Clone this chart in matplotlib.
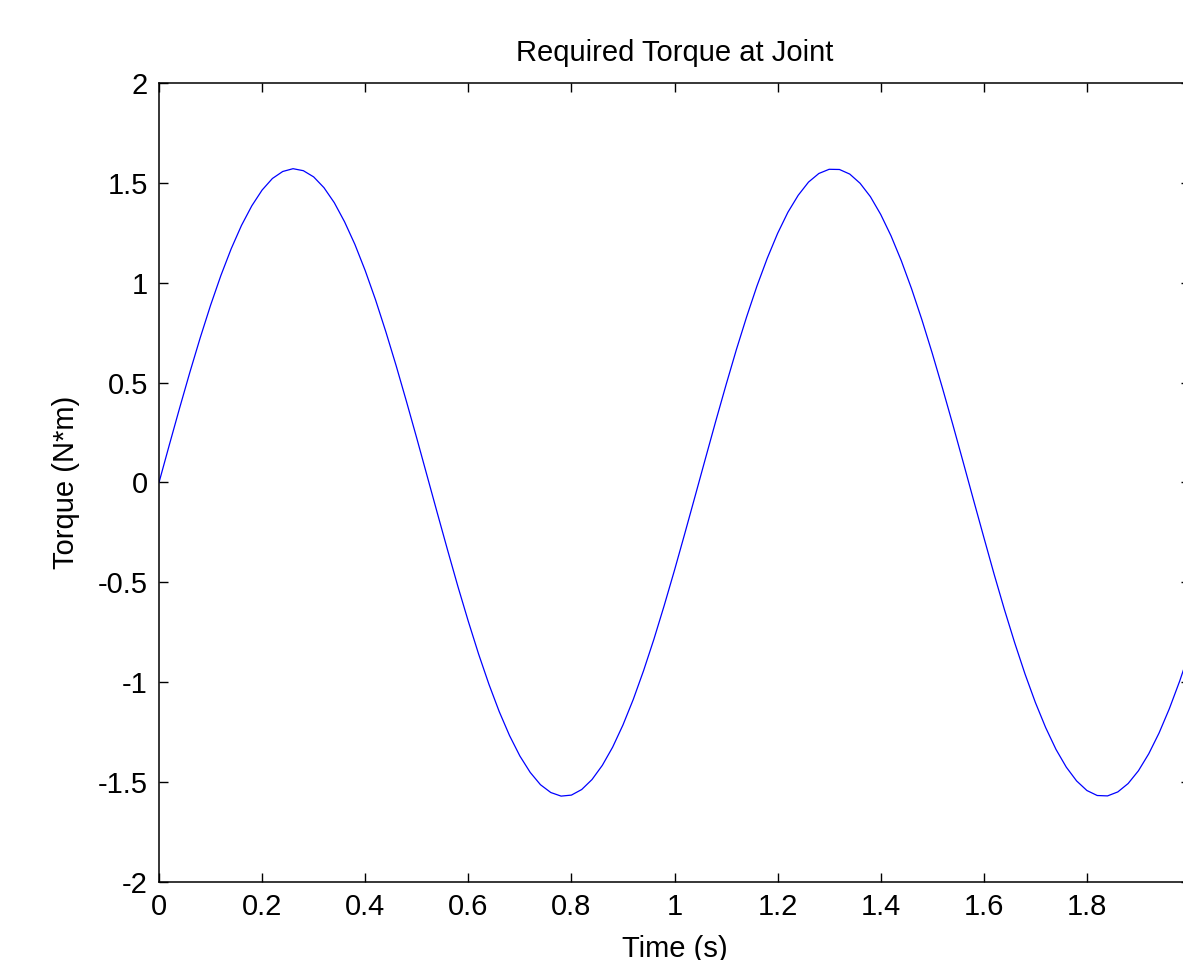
import matplotlib
matplotlib.use('Agg')
import matplotlib.pyplot as plt

# ==========================================
# DATA
# ==========================================
time_s = [i * 0.02 for i in range(101)]
torque_nm = [
    0.000, 0.188, 0.373, 0.553, 0.725, 0.887, 1.036, 1.170, 1.287, 1.385,
    1.464, 1.522, 1.557, 1.571, 1.561, 1.530, 1.476, 1.401, 1.305, 1.192,
    1.061, 0.915, 0.755, 0.585, 0.406, 0.222, 0.034, -0.154, -0.340, -0.522,
    -0.695, -0.859, -1.010, -1.147, -1.267, -1.369, -1.451, -1.513, -1.552, -1.570,
    -1.565, -1.537, -1.487, -1.416, -1.325, -1.214, -1.086, -0.942, -0.785, -0.616,
    -0.439, -0.255, -0.068, 0.120, 0.307, 0.489, 0.665, 0.830, 0.984, 1.123,
    1.247, 1.353, 1.438, 1.504, 1.547, 1.568, 1.567, 1.544, 1.498, 1.431,
    1.342, 1.235, 1.110, 0.969, 0.814, 0.647, 0.471, 0.289, 0.102, -0.087,
    -0.274, -0.459, -0.636, -0.803, -0.959, -1.101, -1.227, -1.336, -1.425, -1.494,
    -1.542, -1.567, -1.569, -1.549, -1.507, -1.443, -1.358, -1.254, -1.132, -0.994,
    -0.841,
]
x_ticks = [0, 0.2, 0.4, 0.6, 0.8, 1.0, 1.2, 1.4, 1.6, 1.8]
x_tick_labels = ['0', '0.2', '0.4', '0.6', '0.8', '1', '1.2', '1.4', '1.6', '1.8']
y_ticks = [-2, -1.5, -1, -0.5, 0, 0.5, 1, 1.5, 2]
y_tick_labels = ['-2', '-1.5', '-1', '-0.5', '0', '0.5', '1', '1.5', '2']

# ==========================================
# STYLE
# ==========================================
plt.rcParams.update({
    'font.family': ['Liberation Sans', 'DejaVu Sans'],
    'font.size': 21,
})

W, H = 1183, 960
fig = plt.figure(figsize=(W / 100, H / 100), dpi=100)
# axes box: left spine at x=159, right spine just past the image edge
ax = fig.add_axes([159 / W, 1 - 882 / H, (1190 - 159) / W, (882 - 83) / H])

ax.plot(time_s, torque_nm, color='#0000ff', linewidth=0.9)

ax.set_xlim(0, 2)
ax.set_ylim(-2, 2)
ax.set_xticks(x_ticks)
ax.set_xticklabels(x_tick_labels)
ax.set_yticks(y_ticks)
ax.set_yticklabels(y_tick_labels)

ax.tick_params(axis='both', direction='in', length=6.5, width=1.0,
               top=True, right=True, labelsize=21)
ax.tick_params(axis='x', pad=8)
ax.tick_params(axis='y', pad=8)
for s in ax.spines.values():
    s.set_linewidth(1.1)

ax.set_title('Required Torque at Joint', fontsize=21, pad=16)
ax.set_xlabel('Time (s)', fontsize=21, labelpad=10)
ax.set_ylabel('Torque (N*m)', fontsize=21, labelpad=13)

fig.savefig('out.png', dpi=100)
